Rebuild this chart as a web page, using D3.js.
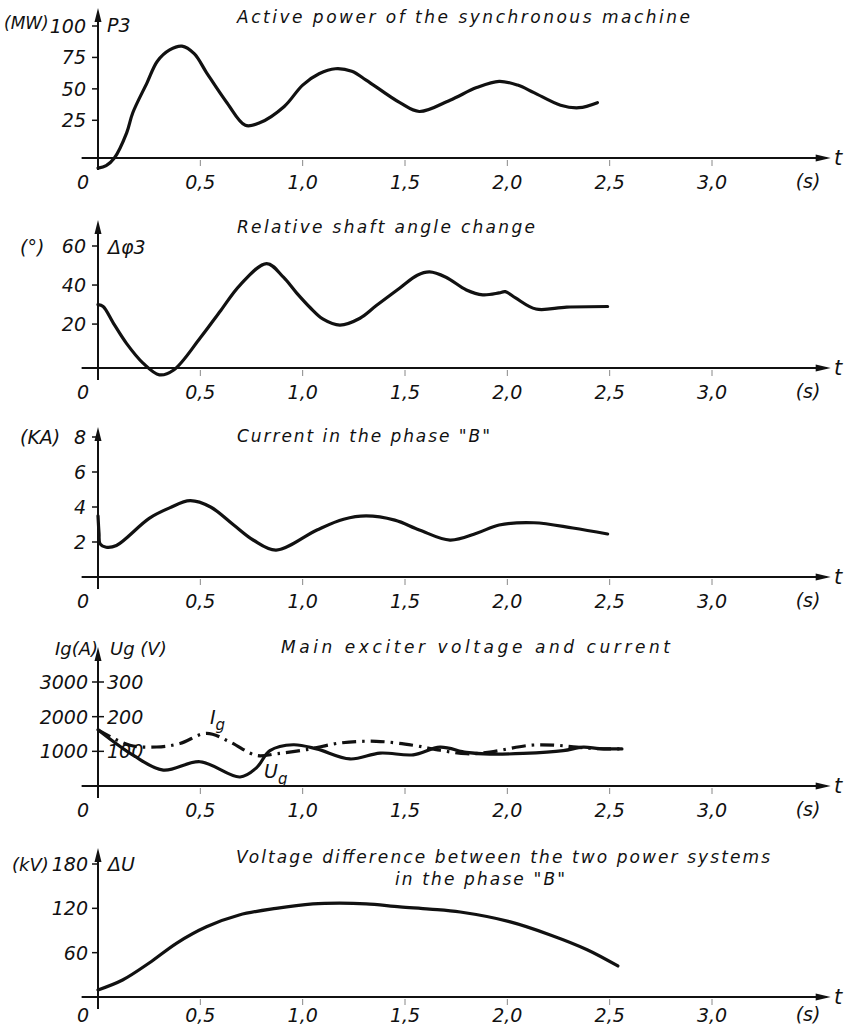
<!DOCTYPE html>
<html>
<head>
<meta charset="utf-8">
<script src="https://cdn.jsdelivr.net/npm/d3@7/dist/d3.min.js"></script>
<style>
body { margin: 0; background: #fff; }
text { font-family: "DejaVu Sans", sans-serif; font-style: italic; fill: #111; }
</style>
</head>
<body>
<div id="main"></div>
<script>
// time axis (s)
var tickTimes = [0.5, 1.0, 1.5, 2.0, 2.5, 3.0];
var tickNames = ["0,5", "1,0", "1,5", "2,0", "2,5", "3,0"];

// active power P3 (MW)
var powerTime = [0, 0.04, 0.08, 0.14, 0.17, 0.24, 0.29, 0.35, 0.41, 0.47, 0.53, 0.63, 0.72, 0.79, 0.91, 1.0, 1.08, 1.16, 1.24, 1.31, 1.475, 1.57, 1.72, 1.85, 1.96, 2.05, 2.13, 2.26, 2.35, 2.44];
var powerMW = [-13, -11, -5, 15, 31, 55, 72, 81, 84, 78, 63, 39, 21, 23, 36, 53, 62, 66, 64, 57, 39, 32, 41, 51, 56, 53, 47, 37, 35, 39];
var powerTicks = [25, 50, 75, 100];

// shaft angle change (deg)
var angleTime = [0, 0.025, 0.075, 0.14, 0.22, 0.30, 0.37, 0.50, 0.60, 0.694, 0.824, 0.906, 0.97, 1.036, 1.1, 1.182, 1.28, 1.36, 1.475, 1.56, 1.62, 1.70, 1.80, 1.88, 1.96, 1.99, 2.04, 2.14, 2.29, 2.49];
var angleDeg = [30, 29, 20.5, 10, 0, -6, -3.5, 13, 27, 40, 51, 44, 36, 28.5, 22.5, 19.5, 23, 29.5, 38.5, 45, 46.7, 44, 37.5, 35, 36, 36.6, 33.4, 27.7, 28.7, 29];
var angleTicks = [20, 40, 60];

// current in phase B (kA)
var currentTime = [0, 0.005, 0.01, 0.04, 0.09, 0.25, 0.35, 0.45, 0.55, 0.66, 0.76, 0.87, 1.07, 1.20, 1.31, 1.45, 1.57, 1.72, 1.85, 1.96, 2.13, 2.32, 2.49];
var currentKA = [3.5, 2.5, 1.9, 1.7, 1.8, 3.35, 3.95, 4.36, 4.0, 3.0, 2.1, 1.54, 2.69, 3.3, 3.49, 3.25, 2.69, 2.11, 2.5, 2.97, 3.1, 2.8, 2.46];
var currentTicks = [2, 4, 6, 8];

// main exciter: voltage Ug (V) and current Ig (A)
var ugTime = [0, 0.173, 0.319, 0.498, 0.694, 0.775, 0.84, 0.954, 1.068, 1.231, 1.378, 1.54, 1.671, 1.8, 1.915, 2.078, 2.273, 2.37, 2.45, 2.56];
var ugVolt = [162, 88, 46, 70, 26, 53, 102, 119, 107, 78, 95, 90, 112, 97, 92, 94, 102, 112, 108, 107];
var igTime = [0, 0.156, 0.287, 0.40, 0.531, 0.645, 0.775, 0.873, 1.02, 1.182, 1.36, 1.54, 1.671, 1.8, 1.915, 2.11, 2.24, 2.339, 2.45, 2.56];
var igAmp = [1620, 1175, 1125, 1225, 1520, 1270, 880, 930, 1050, 1240, 1290, 1175, 1030, 930, 980, 1175, 1175, 1120, 1075, 1070];
var igTicks = [1000, 2000, 3000];
var ugTicks = [100, 200, 300];

// voltage difference between systems (kV)
var duTime = [0, 0.12, 0.25, 0.385, 0.53, 0.69, 0.87, 1.05, 1.18, 1.31, 1.475, 1.62, 1.77, 2.01, 2.21, 2.39, 2.54];
var duKV = [9.5, 23, 46, 73, 95, 111, 120, 126, 127, 126, 122, 119, 115, 102, 84, 64, 42];
var duTicks = [60, 120, 180];

var svg = d3.select("#main").append("svg")
    .attr("width", 845)
    .attr("height", 1028);

var x = d3.scaleLinear().domain([0, 3]).range([98, 712]);
var tEnd = 3.58;
var fs = 19;

function label(str, px, py, anchor, size) {
    return svg.append("text")
        .text(str)
        .attr("x", px)
        .attr("y", py)
        .attr("text-anchor", anchor || "start")
        .attr("font-size", size || fs);
}

function title(str, px, py, len) {
    label(str, px, py, "start", 17)
        .attr("textLength", len)
        .attr("lengthAdjust", "spacing");
}

function frame(base, top, lab) {
    var g = svg.append("g");
    g.append("line")
        .attr("x1", x(-0.08)).attr("x2", x(tEnd) - 4)
        .attr("y1", base).attr("y2", base)
        .attr("stroke", "#111").attr("stroke-width", 2);
    g.append("path")
        .attr("d", "M" + x(tEnd) + "," + base + " l-15,-3.5 l0,7 z")
        .attr("fill", "#111");
    g.append("line")
        .attr("x1", x(0)).attr("x2", x(0))
        .attr("y1", base + 12).attr("y2", top + 8)
        .attr("stroke", "#111").attr("stroke-width", 2);
    g.append("path")
        .attr("d", "M" + x(0) + "," + top + " l-3.5,14 l7,0 z")
        .attr("fill", "#111");
    for (var i = 0; i < tickTimes.length; i++) {
        g.append("line")
            .attr("x1", x(tickTimes[i])).attr("x2", x(tickTimes[i]))
            .attr("y1", base + 2).attr("y2", base + 8)
            .attr("stroke", "#888").attr("stroke-width", 1);
        label(tickNames[i], x(tickTimes[i]), base + lab, "middle");
    }
    label("0", x(0) - 9, base + lab, "end");
    label("(s)", 808, base + lab - 1, "middle");
    label("t", 834, base + 7, "start", 21);
}

function yTicks(scale, vals, names, right, cross) {
    for (var i = 0; i < vals.length; i++) {
        var py = scale(vals[i]);
        svg.append("line")
            .attr("x1", x(0) - 6).attr("x2", x(0) + (cross ? 6 : 0))
            .attr("y1", py).attr("y2", py)
            .attr("stroke", "#111").attr("stroke-width", 1.5);
        if (names) label(names[i], right, py + 7, "end");
    }
}

function curve(times, vals, scale, dash) {
    var pts = times.map(function(t, i) { return [t, vals[i]]; });
    var line = d3.line()
        .x(function(d) { return x(d[0]); })
        .y(function(d) { return scale(d[1]); })
        .curve(d3.curveCatmullRom.alpha(0.5));
    var p = svg.append("path")
        .datum(pts)
        .attr("d", line)
        .attr("fill", "none")
        .attr("stroke", "#111")
        .attr("stroke-width", 3.2)
        .attr("stroke-linejoin", "round");
    if (dash) p.attr("stroke-dasharray", dash);
    else p.attr("stroke-linecap", "round");
}

function sub(main, s, px, py) {
    var t = label(main, px, py, "start");
    t.append("tspan").text(s).attr("dy", 6).attr("font-size", 15);
}

// panel 1
var yP = d3.scaleLinear().domain([-5, 100]).range([158, 26]);
frame(158, 8, 31);
yTicks(yP, powerTicks, powerTicks.map(String), 86);
label("(MW)", 4, 29, "start", 17);
label("P3", 107, 32);
title("Active power of the synchronous machine", 237, 23, 453);
curve(powerTime, powerMW, yP);

// panel 2
var yA = d3.scaleLinear().domain([-2.5, 60]).range([368, 246]);
frame(368, 220, 31);
yTicks(yA, angleTicks, angleTicks.map(String), 86);
label("(°)", 20, 254);
label("Δφ3", 108, 254);
title("Relative shaft angle change", 237, 233, 298);
curve(angleTime, angleDeg, yA);

// panel 3
var yC = d3.scaleLinear().domain([0, 8]).range([577, 437]);
frame(577, 427, 31);
yTicks(yC, currentTicks, currentTicks.map(String), 86);
label("(KA)", 20, 444);
title("Current in the phase \"B\"", 237, 442, 253);
curve(currentTime, currentKA, yC);

// panel 4
var yI = d3.scaleLinear().domain([0, 3000]).range([786, 682]);
var yU = d3.scaleLinear().domain([0, 300]).range([786, 682]);
frame(786, 647, 31);
yTicks(yI, igTicks, igTicks.map(String), 88, true);
ugTicks.forEach(function(v) { label(String(v), 107, yU(v) + 7, "start"); });
label("Ig(A)", 55, 655, "start", 18);
label("Ug (V)", 110, 655, "start", 18);
title("Main exciter voltage and current", 281, 653, 389);
curve(igTime, igAmp, yI, "14,6,2.5,6");
curve(ugTime, ugVolt, yU);
sub("I", "g", 210, 724);
sub("U", "g", 264, 778);

// panel 5
var yD = d3.scaleLinear().domain([0, 180]).range([997, 864]);
frame(997, 848, 25);
yTicks(yD, duTicks, duTicks.map(String), 88);
label("(kV)", 12, 871, "start", 18);
label("ΔU", 108, 871);
title("Voltage difference between the two power systems", 236, 863, 534);
title("in the phase \"B\"", 395, 885, 170);
curve(duTime, duKV, yD);
</script>
</body>
</html>
